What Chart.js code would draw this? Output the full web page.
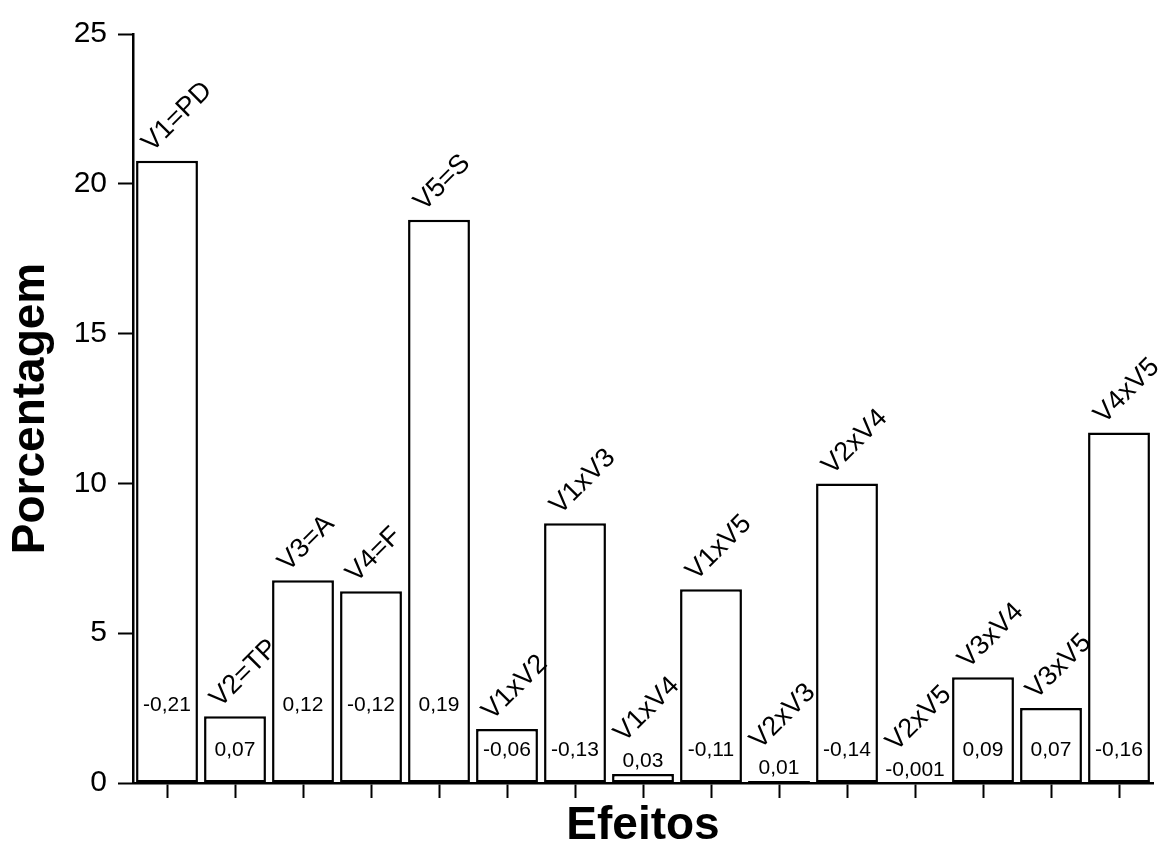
<!DOCTYPE html>
<html>
<head>
<meta charset="utf-8">
<script src="https://cdn.jsdelivr.net/npm/chart.js@4"></script>
<style>
  html, body { margin: 0; padding: 0; background: #fff; }
  #wrap { width: 1167px; height: 854px; }
</style>
</head>
<body>
<div id="wrap"><canvas id="chart"></canvas></div>
<script>
const effectNames = ['V1=PD', 'V2=TP', 'V3=A', 'V4=F', 'V5=S', 'V1xV2', 'V1xV3', 'V1xV4', 'V1xV5', 'V2xV3', 'V2xV4', 'V2xV5', 'V3xV4', 'V3xV5', 'V4xV5'];
const percentages = [20.77, 2.23, 6.77, 6.4, 18.8, 1.8, 8.67, 0.3, 6.47, 0.07, 10.0, 0, 3.53, 2.5, 11.7];
const effects = [-0.21, 0.07, 0.12, -0.12, 0.19, -0.06, -0.13, 0.03, -0.11, 0.01, -0.14, -0.001, 0.09, 0.07, -0.16];
const yTicks = [0, 5, 10, 15, 20, 25];

const FONT = '"Liberation Sans", Arial, sans-serif';
Chart.defaults.font.family = FONT;
Chart.defaults.color = '#000';

// effect value inside / above each bar, effect name rotated above it
const barLabels = {
  id: 'barLabels',
  afterDatasetsDraw(chart) {
    const { ctx, scales: { y } } = chart;
    const meta = chart.getDatasetMeta(0);
    ctx.save();
    ctx.fillStyle = '#000';
    meta.data.forEach((bar, i) => {
      const left = bar.x - bar.width / 2;
      const top = bar.y;
      const v = percentages[i];
      let valueY;
      let nameX = left + 16;
      let nameY = top - 8;
      if (v < 1) {
        valueY = top - 13;
        nameX = left + 12;
        nameY = top - 31;
      } else if (effectNames[i].includes('=') && v > 3) {
        valueY = y.getPixelForValue(2.6);
      } else {
        valueY = y.getPixelForValue(1.1);
      }
      ctx.font = '21px ' + FONT;
      ctx.textAlign = 'center';
      ctx.textBaseline = 'middle';
      ctx.fillText(String(effects[i]).replace('.', ','), bar.x, valueY);

      ctx.save();
      ctx.translate(nameX, nameY);
      ctx.rotate(-Math.PI / 4);
      ctx.font = '27px ' + FONT;
      ctx.textAlign = 'left';
      ctx.textBaseline = 'alphabetic';
      ctx.fillText(effectNames[i], 0, 0);
      ctx.restore();
    });
    ctx.restore();
  }
};

new Chart(document.getElementById('chart'), {
  type: 'bar',
  data: {
    labels: effectNames,
    datasets: [{
      data: percentages,
      backgroundColor: '#fff',
      borderColor: '#000',
      borderWidth: 2.5,
      borderSkipped: false,
      barPercentage: 0.91,
      categoryPercentage: 1
    }]
  },
  options: {
    responsive: true,
    maintainAspectRatio: false,
    animation: false,
    layout: { padding: { top: 34, right: 14, bottom: 0, left: 0 } },
    plugins: { legend: { display: false }, tooltip: { enabled: false } },
    scales: {
      x: {
        afterFit(scale) { scale.height = 71; },
        grid: { offset: false, drawOnChartArea: false, drawTicks: true, tickLength: 15, tickWidth: 2, tickColor: '#000' },
        border: { display: true, color: '#000', width: 2.5 },
        ticks: { display: false },
        title: { display: true, text: 'Efeitos', color: '#000', font: { size: 46, weight: 'bold', lineHeight: 1.2 }, padding: { top: 0, bottom: 0 } }
      },
      y: {
        min: 0,
        max: 25,
        afterFit(scale) { scale.width = 133; },
        afterBuildTicks(scale) { scale.ticks = yTicks.map(v => ({ value: v })); },
        grid: { drawOnChartArea: false, drawTicks: true, tickLength: 15, tickWidth: 2, tickColor: '#000' },
        border: { display: true, color: '#000', width: 2.5 },
        ticks: { color: '#000', font: { size: 30 }, padding: 11 },
        title: { display: true, text: 'Porcentagem', color: '#000', font: { size: 46, weight: 'bold', lineHeight: 1.2 }, padding: { top: 4, bottom: 0 } }
      }
    }
  },
  plugins: [barLabels]
});
</script>
</body>
</html>
